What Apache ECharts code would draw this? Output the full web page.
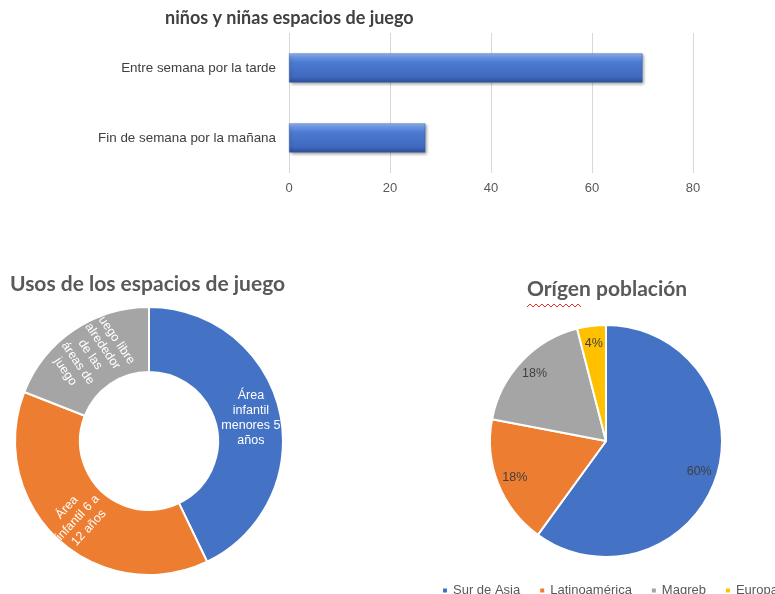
<!DOCTYPE html>
<html>
<head>
<meta charset="utf-8">
<script src="https://cdn.jsdelivr.net/npm/echarts@6/dist/echarts.min.js"></script>
<style>html,body{margin:0;padding:0;background:#fff}#c{width:775px;height:594px}</style>
</head>
<body>
<div id="c"></div>
<script>
// Bar chart data
var barCategories = ['Entre semana por la tarde', 'Fin de semana por la mañana'];
var barValues = [70, 27];
var barTicks = [0, 20, 40, 60, 80];

// Donut data
var usosNames = ['Área\ninfantil\nmenores 5\naños', 'Área\ninfantil 6 a\n12 años', 'Juego libre\nalrededor\nde las\náreas de\njuego'];
var usosValues = [45, 40, 20];

// Pie data
var origenNames = ['Sur de Asia', 'Latinoamérica', 'Magreb', 'Europa'];
var origenValues = [60, 18, 18, 4];

var palette = ['#4472C4', '#ED7D31', '#A5A5A5', '#FFC000'];

var chart = echarts.init(document.getElementById('c'), null, {renderer: 'canvas'});

var usosData = usosNames.map(function (n, i) {
  return {name: n, value: usosValues[i], itemStyle: {color: palette[i]},
    label: {rotate: i === 0 ? 0 : 'radial'}};
});
var origenData = origenNames.map(function (n, i) {
  return {name: n, value: origenValues[i], itemStyle: {color: palette[i]}};
});
var origenLabelData = origenNames.map(function (n, i) {
  return {name: n, value: origenValues[i]};
});

chart.setOption({
  animation: false,
  color: palette,
  title: [
    {text: 'niños y niñas espacios de juego', left: 165, top: 9, padding: 0,
      textStyle: {fontFamily: 'Lato', fontWeight: 'bold', fontSize: 18, color: '#404040'}},
    {text: 'Usos de los espacios de juego', left: 10, top: 274, padding: 0,
      textStyle: {fontFamily: 'Lato', fontWeight: 'bold', fontSize: 21, color: '#595959'}},
    {text: 'Orígen población', left: 527, top: 279, padding: 0,
      textStyle: {fontFamily: 'Lato', fontWeight: 'bold', fontSize: 21, color: '#595959'}}
  ],
  grid: {left: 289, top: 33, width: 404, height: 140},
  xAxis: {
    type: 'value', min: barTicks[0], max: barTicks[barTicks.length - 1], interval: 20,
    axisLine: {show: false}, axisTick: {show: false},
    axisLabel: {color: '#595959', fontSize: 13, margin: 9, fontFamily: 'Liberation Sans'},
    splitLine: {lineStyle: {color: '#d9d9d9', width: 1}}
  },
  yAxis: {
    type: 'category', data: barCategories, inverse: true,
    axisLine: {show: false}, axisTick: {show: false},
    axisLabel: {color: '#404040', fontSize: 13.4, margin: 13, fontFamily: 'Liberation Sans'}
  },
  legend: {
    data: origenNames, left: 441, top: 584, width: 500, padding: 0,
    orient: 'horizontal',
    icon: 'rect', itemWidth: 6, itemHeight: 6, itemGap: 18,
    textStyle: {color: '#595959', fontSize: 13, fontFamily: 'Liberation Sans'}
  },
  series: [
    {
      type: 'bar', data: barValues, barWidth: 29,
      itemStyle: {
        color: new echarts.graphic.LinearGradient(0, 0, 0, 1, [
          {offset: 0, color: '#9bbcf2'},
          {offset: 0.12, color: '#6a95e2'},
          {offset: 0.3, color: '#4c7bd2'},
          {offset: 0.8, color: '#4069bf'},
          {offset: 1, color: '#2d4f96'}
        ]),
        borderColor: '#3a5fa8', borderWidth: 0.5,
        shadowColor: 'rgba(0,0,0,0.35)', shadowBlur: 3, shadowOffsetX: 1.5, shadowOffsetY: 1.5
      }
    },
    {
      type: 'pie', center: [149, 441], radius: [69, 134], startAngle: 90, clockwise: true,
      data: usosData,
      itemStyle: {borderColor: '#fff', borderWidth: 2},
      label: {show: true, position: 'inside', color: '#fff', fontSize: 12.5, lineHeight: 15,
        fontFamily: 'Liberation Sans'},
      labelLine: {show: false},
      emphasis: {disabled: true}
    },
    {
      type: 'pie', center: [606, 441], radius: [0, 116], startAngle: 90, clockwise: true,
      data: origenData,
      itemStyle: {borderColor: '#fff', borderWidth: 2},
      label: {show: false}, labelLine: {show: false},
      emphasis: {disabled: true}
    },
    {
      type: 'pie', center: [606, 441], radius: [74, 116], startAngle: 90, clockwise: true,
      data: origenLabelData,
      itemStyle: {color: 'rgba(0,0,0,0)', borderWidth: 0},
      label: {show: true, position: 'inside', formatter: '{d}%', color: '#404040', fontSize: 12.5,
        fontFamily: 'Liberation Sans'},
      labelLine: {show: false}, silent: true,
      emphasis: {disabled: true}
    }
  ],
  graphic: [{
    type: 'polyline', silent: true,
    shape: {points: (function () { var p = []; for (var x = 527; x <= 583; x += 3) { p.push([x, (Math.round((x - 527) / 3) % 2) ? 304 : 307]); } return p; })()},
    style: {stroke: '#e0302a', lineWidth: 1, fill: null}
  }]
});
</script>
</body>
</html>
